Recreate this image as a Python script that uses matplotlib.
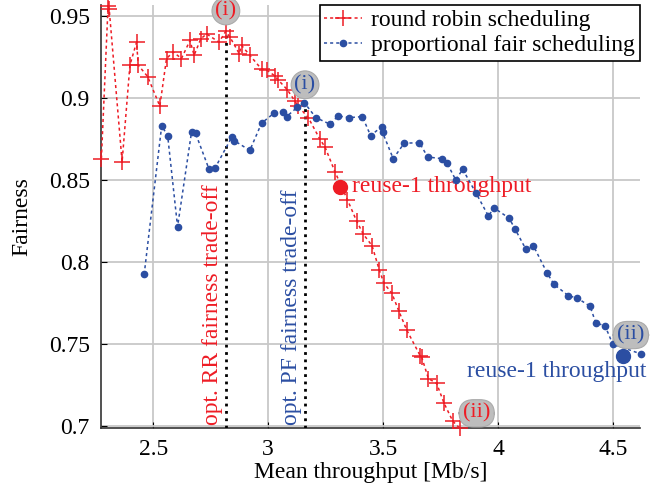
import matplotlib
matplotlib.use("Agg")
import matplotlib.pyplot as plt

plt.rcParams['font.family'] = ['Liberation Serif', 'DejaVu Serif']
plt.rcParams['mathtext.fontset'] = 'stix'

# round robin scheduling (throughput, fairness)
rr_x = [2.275, 2.304, 2.309, 2.365, 2.399, 2.428, 2.435, 2.476, 2.529, 2.558,
        2.587, 2.623, 2.660, 2.678, 2.707, 2.732, 2.786, 2.815, 2.834, 2.874,
        2.884, 2.920, 2.971, 2.993, 3.029, 3.043, 3.083, 3.116, 3.130, 3.174,
        3.224, 3.247, 3.290, 3.344, 3.384, 3.413, 3.451, 3.483, 3.503, 3.537,
        3.568, 3.602, 3.660, 3.667, 3.696, 3.732, 3.764, 3.802, 3.833]
rr_y = [0.863, 0.956, 0.954, 0.861, 0.920, 0.934, 0.920, 0.913, 0.895, 0.924,
        0.928, 0.924, 0.935, 0.926, 0.936, 0.939, 0.934, 0.9405, 0.937, 0.927,
        0.932, 0.926, 0.9175, 0.917, 0.9134, 0.911, 0.905, 0.898, 0.895, 0.888,
        0.875, 0.870, 0.855, 0.838, 0.825, 0.817, 0.810, 0.795, 0.787, 0.781,
        0.770, 0.7585, 0.743, 0.742, 0.729, 0.726, 0.714, 0.703, 0.6986]

# proportional fair scheduling
pf_x = [2.461, 2.537, 2.563, 2.606, 2.667, 2.684, 2.743, 2.768, 2.841, 2.852,
        2.920, 2.971, 3.025, 3.063, 3.080, 3.126, 3.157, 3.207, 3.268, 3.304,
        3.352, 3.409, 3.445, 3.493, 3.497, 3.543, 3.591, 3.657, 3.693, 3.754,
        3.776, 3.815, 3.845, 3.903, 3.957, 3.981, 4.047, 4.073, 4.120, 4.152,
        4.213, 4.242, 4.304, 4.343, 4.399, 4.423, 4.464, 4.497, 4.619]
pf_y = [0.7925, 0.883, 0.877, 0.8215, 0.8795, 0.8785, 0.8565, 0.857, 0.876, 0.874,
        0.868, 0.8846, 0.8907, 0.8917, 0.8886, 0.8943, 0.8971, 0.888, 0.884, 0.889,
        0.888, 0.8886, 0.877, 0.8825, 0.879, 0.863, 0.8724, 0.8727, 0.864, 0.863,
        0.8605, 0.850, 0.8565, 0.842, 0.828, 0.833, 0.8267, 0.820, 0.8077, 0.810,
        0.793, 0.7864, 0.7795, 0.778, 0.773, 0.763, 0.761, 0.750, 0.744]

# reuse-1 reference points
rr_reuse = (3.312, 0.846)
pf_reuse = (4.541, 0.7427)

# optimal trade-off points
rr_opt = (2.815, 0.9405)
pf_opt = (3.159, 0.8971)

red = '#ee1c25'
blue = '#2b4ea2'
fs = 17

fig = plt.figure(figsize=(6.64, 4.87), dpi=100)
ax = fig.add_axes([0.152, 0.121, 0.812, 0.869])

ax.plot(rr_x, rr_y, color=red, linestyle=(0, (2, 2)), linewidth=1.1,
        marker='+', markersize=11, markeredgewidth=1.1, clip_on=False,
        label='round robin scheduling', zorder=4)
ax.plot(pf_x, pf_y, color=blue, linestyle=(0, (2, 2)), linewidth=1.1,
        marker='o', markersize=4.5, clip_on=False,
        label='proportional fair scheduling', zorder=4)

ax.plot(*rr_reuse, 'o', color=red, markersize=10, zorder=5)
ax.plot(*pf_reuse, 'o', color=blue, markersize=10, zorder=5, clip_on=False)
ax.text(rr_reuse[0] + 0.05, rr_reuse[1], 'reuse-1 throughput', color=red,
        fontsize=fs, va='center', ha='left')
ax.text(4.645, 0.733, 'reuse-1 throughput', color=blue,
        fontsize=fs, va='center', ha='right', clip_on=False)

ylo, yhi = 0.6988, 0.9567
ax.plot([rr_opt[0], rr_opt[0]], [ylo, rr_opt[1]], color='black',
        linestyle=':', linewidth=2, zorder=3)
ax.plot([pf_opt[0], pf_opt[0]], [ylo, pf_opt[1]], color='black',
        linestyle=':', linewidth=2, zorder=3)
ax.text(rr_opt[0] - 0.012, 0.7005, 'opt. RR fairness trade-off', color=red,
        fontsize=fs, rotation=90, ha='right', va='bottom')
ax.text(pf_opt[0] - 0.012, 0.7005, 'opt. PF fairness trade-off', color=blue,
        fontsize=fs, rotation=90, ha='right', va='bottom')

circ = dict(boxstyle='circle,pad=0.15', facecolor='#bdbdbd', edgecolor='#aaaaaa', linewidth=0.8)
oval = dict(boxstyle='round,pad=0.18,rounding_size=0.65', facecolor='#bdbdbd',
            edgecolor='#aaaaaa', linewidth=0.8)
ax.text(2.816, 0.953, '(i)', color=red, fontsize=16, ha='center', va='center',
        bbox=circ, zorder=6, clip_on=False)
ax.text(3.160, 0.908, '(i)', color=blue, fontsize=16, ha='center', va='center',
        bbox=circ, zorder=6)
ax.text(3.906, 0.7078, '(ii)', color=red, fontsize=16, ha='center', va='center',
        bbox=oval, zorder=6)
ax.text(4.576, 0.7555, '(ii)', color=blue, fontsize=16, ha='center', va='center',
        bbox=oval, zorder=6, clip_on=False)

ax.set_xlim(2.273, 4.616)
ax.set_ylim(ylo, yhi)
ax.set_xticks([2.5, 3, 3.5, 4, 4.5])
ax.set_xticklabels(['2.5', '3', '3.5', '4', '4.5'])
ax.set_yticks([0.7, 0.75, 0.8, 0.85, 0.9, 0.95])
ax.set_yticklabels(['0.7', '0.75', '0.8', '0.85', '0.9', '0.95'])
ax.tick_params(direction='in', labelsize=fs, length=4, width=0.8, pad=8)
ax.grid(True, color='#c8c8c8', linewidth=1.3)
ax.set_axisbelow(True)
for s in ['top', 'right']:
    ax.spines[s].set_visible(False)
for s in ['left', 'bottom']:
    ax.spines[s].set_color('#333333')
    ax.spines[s].set_linewidth(1.2)

ax.set_xlabel('Mean throughput [Mb/s]', fontsize=fs, labelpad=1)
ax.set_ylabel('Fairness', fontsize=fs, labelpad=12)

leg = ax.legend(loc='upper right', bbox_to_anchor=(1.0, 1.0), fontsize=fs,
                fancybox=False, edgecolor='black', framealpha=1,
                borderaxespad=0, handlelength=1.6, handletextpad=0.4,
                borderpad=0.2, labelspacing=0.15)
leg.get_frame().set_linewidth(1.2)

fig.savefig('out.png', dpi=100)
